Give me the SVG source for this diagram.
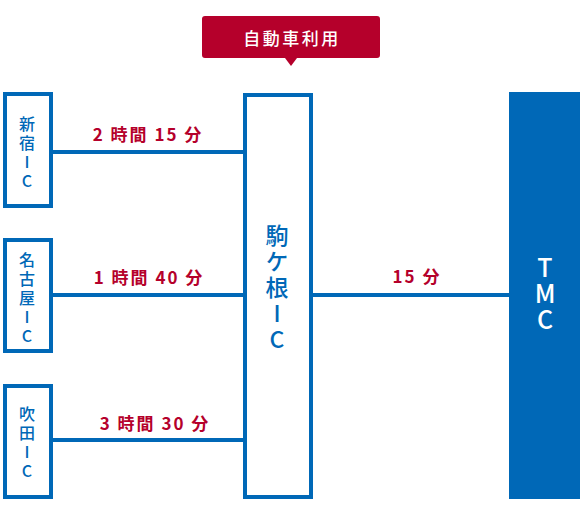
<svg xmlns="http://www.w3.org/2000/svg" width="580" height="520" viewBox="0 0 580 520">
<style>
.box{fill:#fff;stroke:#0068b7;stroke-width:4}
.ln{stroke:#0068b7;stroke-width:4;fill:none}
.nt{font-family:"Noto Sans CJK JP","Noto Sans",sans-serif;fill:#0068b7;text-anchor:middle;font-size:16px;font-weight:500;writing-mode:vertical-rl;text-orientation:upright;letter-spacing:3px}
.big{font-size:23px;letter-spacing:3px}
.wt{fill:#fff;font-size:25px;letter-spacing:1px}
.lbl{font-family:"Noto Sans CJK JP","Noto Sans",sans-serif;fill:#b5002b;text-anchor:middle;font-size:17px;font-weight:bold;letter-spacing:2px}
</style>
<rect width="580" height="520" fill="#fff"/>
<g id="connectors">
<line class="ln" x1="53" y1="152" x2="245" y2="152"/>
<line class="ln" x1="53" y1="295" x2="245" y2="295"/>
<line class="ln" x1="53" y1="440" x2="245" y2="440"/>
<line class="ln" x1="313" y1="295" x2="510" y2="295"/>
<text class="lbl" x="148" y="141">2 時間 15 分</text>
<text class="lbl" x="149" y="284">1 時間 40 分</text>
<text class="lbl" x="155" y="430">3 時間 30 分</text>
<text class="lbl" x="417" y="283">15 分</text>
</g>
<g id="callout">
<path d="M205,16 H377 Q380,16 380,19 V55 Q380,58 377,58 H297 L291,66 L285,58 H205 Q202,58 202,55 V19 Q202,16 205,16 Z" fill="#b5002b"/>
<text x="292" y="45" font-family="Noto Sans CJK JP,sans-serif" font-size="17" font-weight="500" fill="#fff" text-anchor="middle" letter-spacing="2.5">自動車利用</text>
</g>
<g id="shinjuku">
<rect class="box" x="5" y="94" width="46" height="112"/>
<text class="nt" x="27" y="154">新宿IC</text>
</g>
<g id="nagoya">
<rect class="box" x="5" y="240" width="46" height="111"/>
<text class="nt" x="27" y="299">名古屋IC</text>
</g>
<g id="suita">
<rect class="box" x="5" y="386" width="46" height="111"/>
<text class="nt" x="27" y="444">吹田IC</text>
</g>
<g id="komagane">
<rect class="box" x="245" y="95" width="66" height="402"/>
<text class="nt big" x="277" y="289">駒ケ根IC</text>
</g>
<g id="tmc">
<rect x="509" y="92" width="71" height="407" fill="#0068b7"/>
<text class="nt wt" x="545" y="294">TMC</text>
</g>
</svg>
